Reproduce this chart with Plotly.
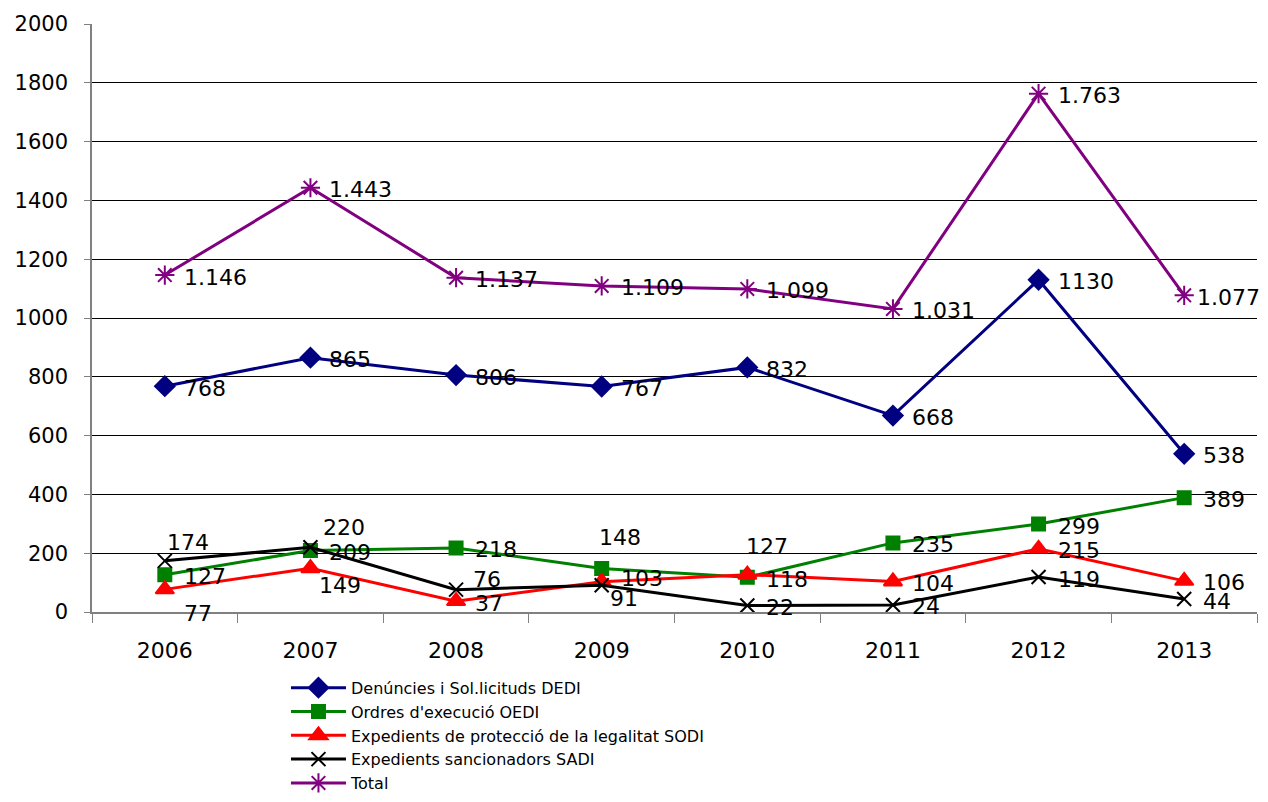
import plotly.graph_objects as go

years = ["2006", "2007", "2008", "2009", "2010", "2011", "2012", "2013"]

dedi = [768, 865, 806, 767, 832, 668, 1130, 538]
oedi = [127, 209, 218, 148, 118, 235, 299, 389]
sodi = [77, 149, 37, 103, 127, 104, 215, 106]
sadi = [174, 220, 76, 91, 22, 24, 119, 44]
total = [1146, 1443, 1137, 1109, 1099, 1031, 1763, 1077]

names = [
    "Denúncies i Sol.licituds DEDI",
    "Ordres d'execució OEDI",
    "Expedients de protecció de la legalitat SODI",
    "Expedients sancionadors SADI",
    "Total",
]

# label placement (pixel shifts from the point), style only
R = (17, -2)
shift_dedi = [R] * 8
shift_oedi = [R, R, R, (-5, 31), R, R, R, R]
shift_sodi = [(17, -24), (7, -17), R, (17, 3), (-3, 28), R, R, R]
shift_sadi = [(0, 18), (11, 20), (15, 10), (6, -13), R, R, R, R]
shift_total = [R] * 7 + [(11, -2)]


def thousands(v):
    return f"{v:,}".replace(",", ".")


FONT = "DejaVu Sans, Verdana, sans-serif"

series = [
    (dedi, names[0], "#000080", "diamond", 15, shift_dedi, [str(v) for v in dedi]),
    (oedi, names[1], "#008000", "square", 13, shift_oedi, [str(v) for v in oedi]),
    (sodi, names[2], "#FF0000", "triangle-up", 16, shift_sodi, [str(v) for v in sodi]),
    (sadi, names[3], "#000000", "x-thin-open", 14, shift_sadi, [str(v) for v in sadi]),
    (total, names[4], "#800080", "asterisk-open", 16, shift_total, [thousands(v) for v in total]),
]

fig = go.Figure()
annotations = []
for vals, name, color, sym, size, shifts, txt in series:
    fig.add_trace(go.Scatter(
        x=years, y=vals, name=name, mode="lines+markers",
        line=dict(color=color, width=3),
        marker=dict(symbol=sym, size=size, color=color,
                    line=dict(color=color, width=2)),
        cliponaxis=False,
    ))
    # category axis: annotation x is the category's serial index
    for i, (yv, t, (dx, dy)) in enumerate(zip(vals, txt, shifts)):
        annotations.append(dict(
            x=i, y=yv, xref="x", yref="y", text=t, showarrow=False,
            xanchor="left", yanchor="middle", xshift=dx, yshift=dy,
            font=dict(family=FONT, size=22, color="#000000"),
        ))

fig.update_layout(
    width=1252, height=786,
    margin=dict(l=84, r=3, t=16, b=182, autoexpand=False),
    paper_bgcolor="white", plot_bgcolor="white",
    font=dict(family=FONT, size=22, color="#000000"),
    showlegend=True,
    annotations=annotations,
    legend=dict(
        x=0.1665, y=-0.100, xanchor="left", yanchor="top",
        font=dict(size=16), tracegroupgap=0, itemwidth=55,
        bgcolor="rgba(0,0,0,0)",
    ),
    xaxis=dict(
        type="category", range=[-0.5, 7.5],
        tickson="boundaries", ticks="outside", ticklen=9, tickcolor="#808080",
        showline=True, linecolor="#808080", linewidth=1.5,
        showgrid=False, tickfont=dict(size=22), ticklabelstandoff=18,
    ),
    yaxis=dict(
        range=[0, 2000], dtick=200, ticks="outside", ticklen=6,
        tickcolor="#808080", showline=True, linecolor="#808080", linewidth=1.5,
        showgrid=True, gridcolor="#000000", gridwidth=1,
        zeroline=False, tickfont=dict(size=21), ticklabelstandoff=12,
    ),
)

fig.write_html("out.html")
